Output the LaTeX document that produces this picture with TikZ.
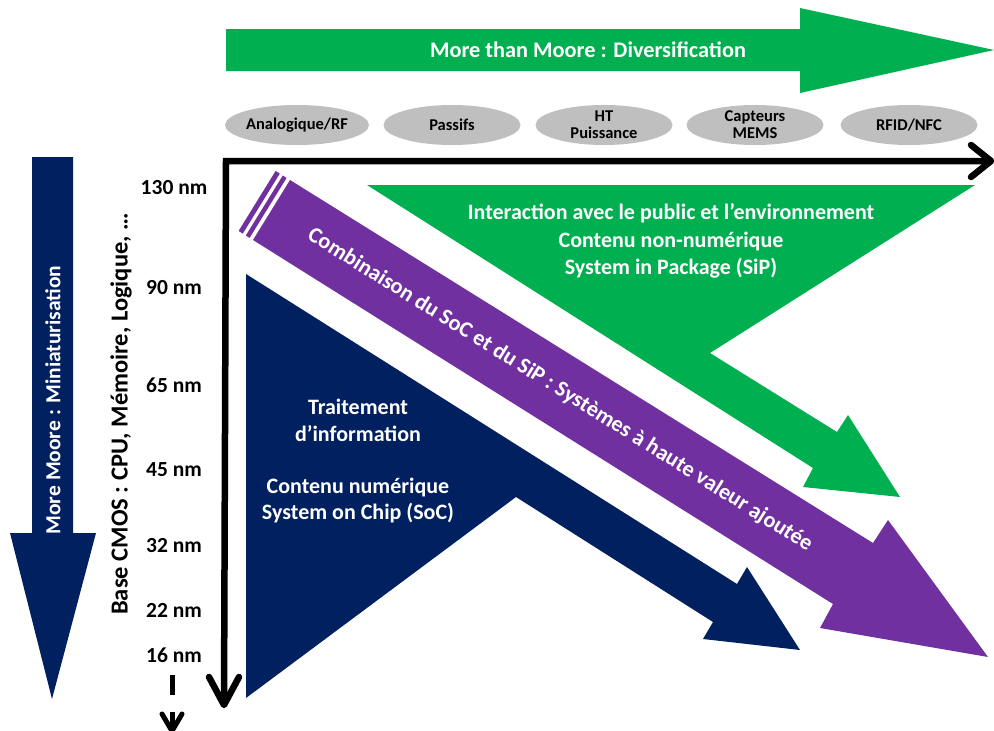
\documentclass[tikz,border=0pt]{standalone}
\usepackage{fontspec}
\setmainfont{Carlito}
\usetikzlibrary{shapes.geometric}
\definecolor{mgreen}{HTML}{00B050}
\definecolor{mnavy}{HTML}{002060}
\definecolor{mpurple}{HTML}{7030A0}
\definecolor{mgray}{HTML}{BFBFBF}
\begin{document}
\begin{tikzpicture}[x=1pt,y=-1pt,
  wtext/.style={text=white, align=center, inner sep=0pt},
  btext/.style={text=black, align=center, inner sep=0pt},
  pill/.style={ellipse, fill=mgray, minimum width=137pt, minimum height=40pt, inner sep=0pt, align=center, font=\bfseries\fontsize{16.5}{19}\selectfont},
  axis/.style={line width=6.5pt, draw=black},
  tick/.style={btext, font=\bfseries\fontsize{21.5}{24}\selectfont}]
\useasboundingbox (0,0) rectangle (994,731);

% top green arrow
\fill[mgreen] (226,29) -- (800,29) -- (800,8) -- (994,50) -- (800,93) -- (800,71) -- (226,71) -- cycle;
\node[wtext, font=\bfseries\fontsize{22.3}{25}\selectfont] (mtm) at (588,50) {More than Moore : Diversification};

% ellipses
\node[pill] (e1) at (297,125) {Analogique/RF};
\node[pill] (e2) at (452,125) {Passifs};
\node[pill] (e3) at (604,125) {HT\\[-2pt]Puissance};
\node[pill] (e4) at (755,125) {Capteurs\\[-2pt]MEMS};
\node[pill] (e5) at (909,125) {RFID/NFC};

% left navy arrow
\fill[mnavy] (32,157) -- (73,157) -- (73,533) -- (96,533) -- (52,699) -- (10,533) -- (32,533) -- cycle;
\node[wtext, rotate=90, font=\bfseries\fontsize{21.5}{24}\selectfont] (mm) at (53,400) {More Moore : Miniaturisation};

% base CMOS label
\node[btext, rotate=90, font=\bfseries\fontsize{24.5}{27}\selectfont] (base) at (121,414) {Base CMOS : CPU, Mémoire, Logique, …};

% ticks
\node[tick] (t130) at (174,188) {130 nm};
\node[tick] (t90) at (174,288) {90 nm};
\node[tick] (t65) at (174,385) {65 nm};
\node[tick] (t45) at (174,470) {45 nm};
\node[tick] (t32) at (174,546) {32 nm};
\node[tick] (t22) at (174,610) {22 nm};
\node[tick] (t16) at (174,655) {16 nm};

% dashed continuation arrow
\coordinate (dtop) at (172,675);
\coordinate (dtip) at (172,731);
\draw[line width=5pt, dash pattern=on 20pt off 17pt] (dtop) -- (dtip);
\draw[line width=5pt, line cap=round, line join=round] (dtip) +(-10,-17) -- (dtip) -- +(10,-17);

% green shape
\fill[mgreen] (367,185) -- (975,185) -- (710,353) -- (837,432) -- (848,415) -- (900,497) -- (803,487) -- (813,468) -- cycle;
\node[wtext, font=\bfseries\fontsize{22}{27.5}\selectfont] (sip) at (671,241) {Interaction avec le public et l’environnement\\Contenu non-numérique\\System in Package (SiP)};

% navy shape
\fill[mnavy] (246,274) -- (737,584) -- (747,567) -- (800,650) -- (703,639) -- (713,622) -- (516,497) -- (246,698) -- cycle;
\node[wtext, font=\bfseries\fontsize{22}{27}\selectfont] (trait) at (358,420) {Traitement\\d’information};
\node[wtext, font=\bfseries\fontsize{22}{26}\selectfont] (soc) at (358,501) {Contenu numérique\\System on Chip (SoC)};

% purple shape
\fill[mpurple] (290,180) -- (873,543) -- (888,520) -- (988,657) -- (820,628) -- (833,604) -- (253,240) -- cycle;
\fill[mpurple] (286.6,177.9) -- (249.6,237.9) -- (245.8,235.5) -- (282.8,175.5) -- cycle;
\fill[mpurple] (279.8,173.6) -- (242.8,233.6) -- (238.6,231.0) -- (275.6,171.0) -- cycle;
\node[wtext, rotate=-32, font=\bfseries\fontsize{22.3}{25}\selectfont] (comb) at (560,390) {Combinaison du SoC et du SiP : Systèmes à haute valeur ajoutée};

% axes
\coordinate (O) at (226,161);
\coordinate (xend) at (991,161);
\coordinate (yend) at (224,705);
\draw[axis, line join=miter] (xend) -- (O) -- (yend);
\draw[axis, line cap=round, line join=round] (xend) +(-20,-16) -- (xend) -- +(-20,16);
\draw[axis, line cap=round, line join=round] (yend) +(-15,-28) -- (yend) -- +(15,-28);
\end{tikzpicture}
\end{document}
